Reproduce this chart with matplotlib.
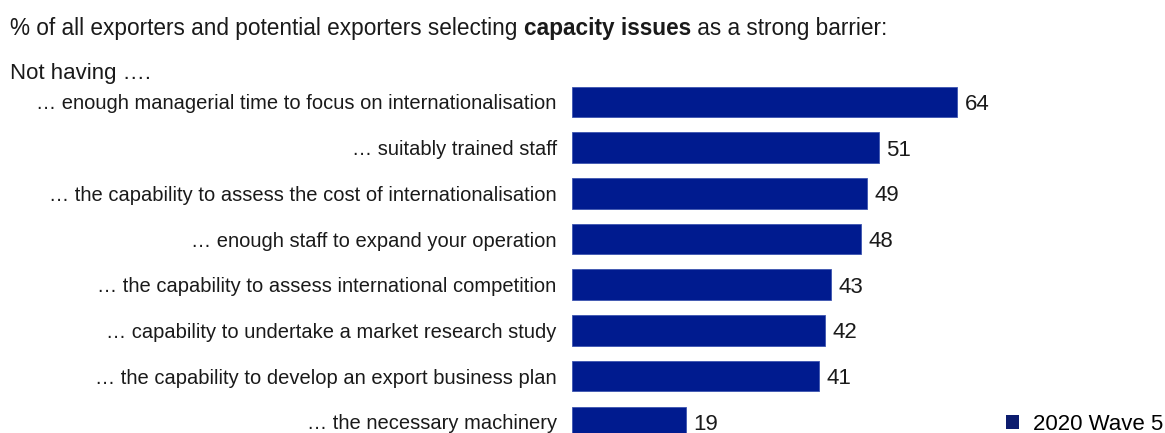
import matplotlib.pyplot as plt
from matplotlib.patches import Patch

plt.rcParams['font.family'] = ['Liberation Sans', 'DejaVu Sans']

barriers = [
    "… enough managerial time to focus on internationalisation",
    "… suitably trained staff",
    "… the capability to assess the cost of internationalisation",
    "… enough staff to expand your operation",
    "… the capability to assess international competition",
    "… capability to undertake a market research study",
    "… the capability to develop an export business plan",
    "… the necessary machinery",
]
pct = [64, 51, 49, 48, 43, 42, 41, 19]
series_name = "2020 Wave 5"

W, H = 1165, 433
fig = plt.figure(figsize=(W / 100, H / 100), dpi=100)

# axes placed in pixel terms: bars start at x=572, first bar centred at y~102
left, right = 572, 1165
top, bottom = 79, 433
ax = fig.add_axes([left / W, 1 - bottom / H, (right - left) / W, (bottom - top) / H])

step = 45.7
y = list(range(len(pct)))
ax.barh(y, pct, height=0.67, color='#001b8f', edgecolor='#3d54b0', linewidth=0.6)
ax.set_xlim(0, (right - left) / 6.02)
ax.set_ylim((bottom - 102) / step, -0.5)

for yi, v in zip(y, pct):
    ax.text(v + 1.2, yi, str(v), va='center_baseline', ha='left', fontsize=16,
            color='#1a1a1a')

ax.set_yticks(y)
ax.set_yticklabels(barriers, fontsize=14.5, color='#1a1a1a')
ax.tick_params(axis='y', length=0, pad=11)
ax.set_xticks([])
for s in ax.spines.values():
    s.set_visible(False)

title_y = 1 - 28 / H
t = fig.text(10 / W, title_y, "% of all exporters and potential exporters selecting ",
             fontsize=16.3, va='center', ha='left', color='#1a1a1a')
fig.canvas.draw()
r = fig.canvas.get_renderer()
bb = t.get_window_extent(r)
b2 = fig.text(bb.x1 / W, title_y, "capacity issues", fontsize=16.3, fontweight='bold',
              va='center', ha='left', color='#1a1a1a')
bb2 = b2.get_window_extent(r)
fig.text(bb2.x1 / W, title_y, " as a strong barrier:", fontsize=16.3,
         va='center', ha='left', color='#1a1a1a')

fig.text(10 / W, 1 - 73 / H, "Not having ….", fontsize=16, va='center', ha='left',
         color='#1a1a1a')

fig.legend(handles=[Patch(facecolor='#0c1c6e', edgecolor='none')], labels=[series_name],
           loc='center right', bbox_to_anchor=(1.0, 1 - 424 / H), frameon=False,
           fontsize=16, handlelength=0.6, handleheight=0.6, handletextpad=0.6,
           borderaxespad=0, borderpad=0.1)

fig.savefig('out.png', dpi=100)
